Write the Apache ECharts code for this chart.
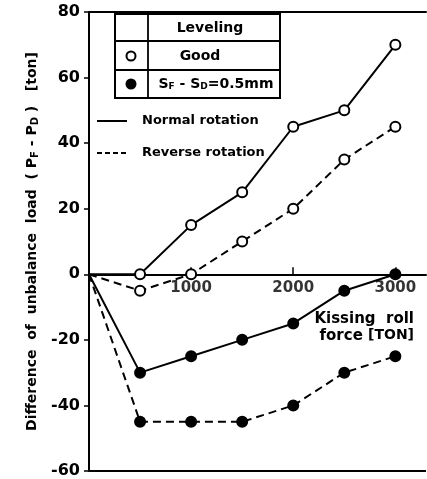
<!DOCTYPE html>
<html>
<head>
<meta charset="utf-8">
<script src="https://cdn.jsdelivr.net/npm/echarts@6/dist/echarts.min.js"></script>
<style>
  html, body { margin: 0; padding: 0; background: #fff; }
  #chart { width: 427px; height: 479px; }
</style>
</head>
<body>
<div id="chart"></div>
<script>
// Kissing roll force [ton]
const force = [0, 500, 1000, 1500, 2000, 2500, 3000];

// Leveling good (open circles)
const goodNormal  = [0, 0, 15, 25, 45, 50, 70];
const goodReverse = [0, -5, 0, 10, 20, 35, 45];

// Leveling SF - SD = 0.5 mm (filled circles)
const offsetNormal  = [0, -30, -25, -20, -15, -5, 0];
const offsetReverse = [0, -45, -45, -45, -40, -30, -25];

const yTicks = [-60, -40, -20, 0, 20, 40, 60, 80];
const xTicks = [1000, 2000, 3000];

const FONT = 'DejaVu Sans';
const INK = '#000';
const TXT = 'bold 14px "DejaVu Sans"';
const KEY = 'bold 13px "DejaVu Sans"';

function pairs(ys) {
  return force.map((x, i) => [x, ys[i]]);
}

function series(name, ys, dashed, filled) {
  return {
    name: name,
    type: 'line',
    xAxisIndex: 0,
    data: pairs(ys),
    symbol: 'circle',
    symbolSize: function (v) { return v[0] === 0 ? 0 : 10; },
    showSymbol: true,
    lineStyle: { color: INK, width: 2, type: dashed ? [8, 5] : 'solid' },
    itemStyle: { color: filled ? INK : '#fff', borderColor: INK, borderWidth: 2 },
    z: filled ? 3 : 4,
    animation: false
  };
}

const allSeries = [
  series('Good, normal rotation', goodNormal, false, false),
  series('Good, reverse rotation', goodReverse, true, false),
  series('SF-SD=0.5mm, normal rotation', offsetNormal, false, true),
  series('SF-SD=0.5mm, reverse rotation', offsetReverse, true, true),
  // force tick labels, written just under the zero line
  {
    name: 'force ticks',
    type: 'scatter',
    data: xTicks.map(v => [v, 0]),
    symbolSize: 0,
    silent: true,
    z: 2,
    label: {
      show: true, position: 'bottom', distance: 6,
      color: INK, fontFamily: FONT, fontWeight: 'bold', fontSize: 15,
      formatter: p => String(p.value[0])
    }
  }
];

// bottom frame line along the lowest y value
allSeries[0].markLine = {
  silent: true, symbol: 'none', animation: false,
  label: { show: false },
  lineStyle: { color: INK, width: 2, type: 'solid' },
  data: [{ yAxis: yTicks[0] }]
};

const chart = echarts.init(document.getElementById('chart'), null, { renderer: 'canvas' });

chart.setOption({
  backgroundColor: '#fff',
  animation: false,
  grid: { left: 89, right: 1, top: 12, bottom: 7, containLabel: false },
  xAxis: [
    {
      type: 'value', min: 0, max: 3300, interval: 1000,
      position: 'bottom',
      axisLine: { onZero: true, lineStyle: { color: INK, width: 2 } },
      axisTick: { show: true, inside: true, length: 7, customValues: xTicks,
                  lineStyle: { color: INK, width: 1.5 } },
      axisLabel: { show: false },
      splitLine: { show: false },
      name: '{a|Kissing  roll}\n{a|force }{b|[TON]}',
      nameLocation: 'end',
      nameTextStyle: {
        align: 'right', verticalAlign: 'top', padding: [36, 12, 0, 0],
        rich: {
          a: { color: INK, fontFamily: FONT, fontWeight: 'bold', fontSize: 15, lineHeight: 17 },
          b: { color: INK, fontFamily: FONT, fontWeight: 'bold', fontSize: 14, lineHeight: 17 }
        }
      },
      nameGap: 0
    },
    {
      type: 'value', min: 0, max: 3300, position: 'top',
      axisLine: { show: true, onZero: false, lineStyle: { color: INK, width: 2 } },
      axisTick: { show: false }, axisLabel: { show: false }, splitLine: { show: false }
    }
  ],
  yAxis: {
    type: 'value', min: -60, max: 80, interval: 20,
    axisLine: { show: true, onZero: false, lineStyle: { color: INK, width: 2 } },
    axisTick: { show: true, length: 5, lineStyle: { color: INK, width: 1.5 } },
    axisLabel: {
      color: INK, fontFamily: FONT, fontWeight: 'bold', fontSize: 16, margin: 9,
      formatter: v => (yTicks.indexOf(v) >= 0 ? String(v) : '')
    },
    splitLine: { show: false },
    name: '{t|Difference  of  unbalance  load  ( P}{s|F}{t| - P}{s|D}{t| )   [ton]}',
    nameLocation: 'middle',
    nameGap: 42,
    nameRotate: 90,
    nameTextStyle: {
      rich: {
        t: { color: INK, fontFamily: FONT, fontWeight: 'bold', fontSize: 14 },
        s: { color: INK, fontFamily: FONT, fontWeight: 'bold', fontSize: 10, verticalAlign: 'bottom', padding: [5, 0, 0, 0] }
      }
    }
  },
  series: allSeries,
  graphic: [
    // legend table
    { type: 'rect', shape: { x: 115, y: 14, width: 165, height: 84 },
      style: { fill: '#fff', stroke: INK, lineWidth: 2 }, z: 10 },
    { type: 'line', shape: { x1: 115, y1: 41, x2: 280, y2: 41 }, style: { stroke: INK, lineWidth: 1.8 }, z: 11 },
    { type: 'line', shape: { x1: 115, y1: 70, x2: 280, y2: 70 }, style: { stroke: INK, lineWidth: 1.8 }, z: 11 },
    { type: 'line', shape: { x1: 148, y1: 14, x2: 148, y2: 98 }, style: { stroke: INK, lineWidth: 1.8 }, z: 11 },
    { type: 'text', x: 210, y: 28, style: { text: 'Leveling', fill: INK, font: TXT, align: 'center', verticalAlign: 'middle' }, z: 12 },
    { type: 'text', x: 200, y: 56, style: { text: 'Good', fill: INK, font: TXT, align: 'center', verticalAlign: 'middle' }, z: 12 },
    { type: 'text', x: 216, y: 84, style: {
        text: '{t|S}{s|F}{t| - S}{s|D}{t|=0.5mm}', align: 'center', verticalAlign: 'middle',
        rich: { t: { fill: INK, font: TXT },
                s: { fill: INK, font: 'bold 9px "DejaVu Sans"', padding: [5, 0, 0, 0] } } }, z: 12 },
    { type: 'circle', shape: { cx: 131, cy: 56, r: 4.5 }, style: { fill: '#fff', stroke: INK, lineWidth: 2 }, z: 12 },
    { type: 'circle', shape: { cx: 131, cy: 84, r: 5.5 }, style: { fill: INK }, z: 12 },
    // line style key
    { type: 'line', shape: { x1: 97, y1: 121, x2: 127, y2: 121 }, style: { stroke: INK, lineWidth: 2 }, z: 12 },
    { type: 'text', x: 142, y: 121, style: { text: 'Normal rotation', fill: INK, font: KEY, verticalAlign: 'middle' }, z: 12 },
    { type: 'line', shape: { x1: 97, y1: 153, x2: 127, y2: 153 }, style: { stroke: INK, lineWidth: 2, lineDash: [5, 3] }, z: 12 },
    { type: 'text', x: 142, y: 153, style: { text: 'Reverse rotation', fill: INK, font: KEY, verticalAlign: 'middle' }, z: 12 }
  ]
});
</script>
</body>
</html>
